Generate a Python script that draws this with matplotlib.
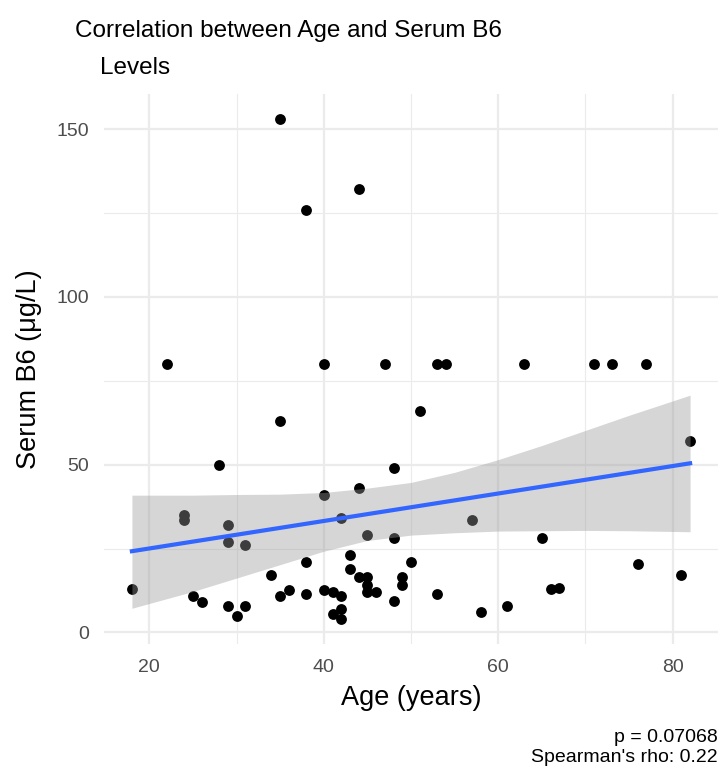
import numpy as np
import matplotlib
matplotlib.use('Agg')
from matplotlib import pyplot as plt
from matplotlib.ticker import MultipleLocator

# values
AGE = [35, 44, 38, 22, 40, 47, 53, 54, 63, 71, 73, 77,
       51, 35, 82, 28, 48, 44, 40, 24, 24, 42, 57, 29,
       45, 48, 65, 29, 31, 43, 38, 50, 76, 43, 34, 81,
       44, 45, 49, 45, 49, 18, 40, 66, 67, 36, 41, 45,
       46, 38, 53, 25, 35, 42, 48, 26, 29, 31, 61, 42,
       58, 41, 30, 42]
B6 = [153, 132, 126, 80, 80, 80, 80, 80, 80, 80, 80, 80,
      66, 63, 57, 50, 49, 43, 41, 35, 33.5, 34, 33.5, 32,
      29, 28, 28, 27, 26, 23, 21, 21, 20.5, 19, 17, 17,
      16.5, 16.5, 16.5, 14, 14, 13, 12.7, 13, 13.2, 12.5, 12, 12,
      12, 11.5, 11.5, 11, 11, 11, 9.5, 9, 8, 8, 8, 7,
      6, 5.5, 5, 4]

# lm smooth as drawn in the reference (line ends and 95% band edges)
FIT_AGE = [18, 82]
FIT_B6 = [24.2, 50.4]
BAND_AGE = [18, 25, 30, 35, 40, 45, 50, 55, 60, 65, 70, 75, 82]
BAND_LO = [7.2, 12.2, 16.2, 20.2, 24.2, 27.4, 29.0, 29.7, 30.2, 30.3, 30.4, 30.3, 30.0]
BAND_HI = [40.9, 40.9, 41.1, 41.2, 41.7, 43.0, 44.7, 47.7, 51.5, 55.7, 60.2, 64.7, 70.7]

TITLE_1 = "Correlation between Age and Serum B6"
TITLE_2 = "Levels"
X_LABEL = "Age (years)"
Y_LABEL = "Serum B6 (\u03bcg/L)"
CAPTION = "p = 0.07068\nSpearman's rho: 0.22"

plt.rcParams['font.family'] = ['Liberation Sans', 'DejaVu Sans']

x = np.array(AGE, dtype=float)
y = np.array(B6, dtype=float)

fig = plt.figure(figsize=(7.24, 7.70), dpi=100)
ax = fig.add_axes([104 / 724, 1 - 644 / 770, (718 - 104) / 724, (644 - 94) / 770])

ax.plot(x, y, 'o', color='black', markersize=7.8, markeredgewidth=0, zorder=2)
ax.fill_between(BAND_AGE, BAND_LO, BAND_HI, color='#999999', alpha=0.4,
                linewidth=0, zorder=3)
ax.plot(FIT_AGE, FIT_B6, color='#3366FF', linewidth=3, zorder=4)

# ggplot-style 5% expansion
xr = x.max() - x.min()
yr = y.max() - y.min()
ax.set_xlim(x.min() - 0.05 * xr, x.max() + 0.05 * xr)
ax.set_ylim(y.min() - 0.05 * yr, y.max() + 0.05 * yr)

ax.xaxis.set_major_locator(MultipleLocator(20))
ax.xaxis.set_minor_locator(MultipleLocator(10))
ax.yaxis.set_major_locator(MultipleLocator(50))
ax.yaxis.set_minor_locator(MultipleLocator(25))
ax.grid(which='major', color='#EBEBEB', linewidth=1.6, zorder=0)
ax.grid(which='minor', color='#EBEBEB', linewidth=0.8, zorder=0)
ax.set_axisbelow(True)
for sp in ax.spines.values():
    sp.set_visible(False)
ax.tick_params(which='both', length=0, labelsize=14, labelcolor='#4D4D4D', pad=11)

ax.set_xlabel(X_LABEL, fontsize=19.5, labelpad=6)
ax.set_ylabel(Y_LABEL, fontsize=19.5, labelpad=10)

fig.text(75 / 724, 1 - 37 / 770, TITLE_1, fontsize=17.5, va='baseline', ha='left')
fig.text(100 / 724, 1 - 74 / 770, TITLE_2, fontsize=17.5, va='baseline', ha='left')
fig.text(718 / 724, 1 - 762 / 770, CAPTION, fontsize=14, ha='right', va='baseline',
         linespacing=1.2)

fig.savefig('out.png', dpi=100)
